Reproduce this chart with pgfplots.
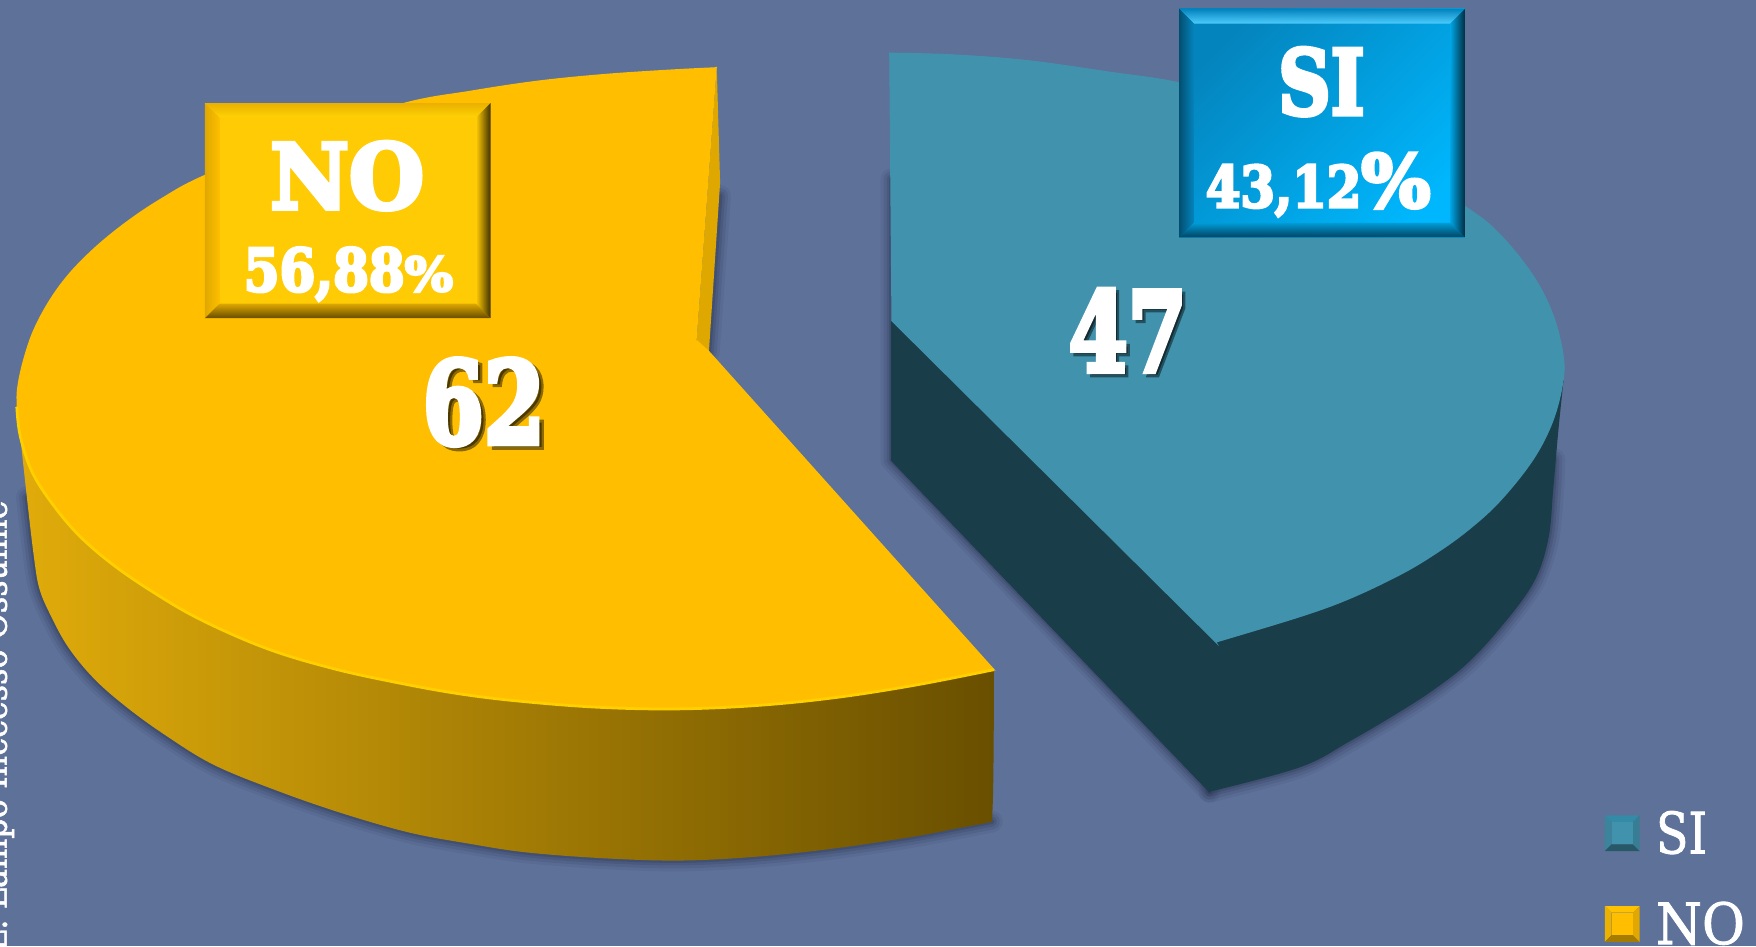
\documentclass[border=0pt]{standalone}
\usepackage{fontspec}
\usepackage{graphicx}
\usepackage{pgfplots}
\usepackage{pgfplotstable}
\pgfplotsset{compat=1.18}
\setmainfont{DejaVu Serif}
\newfontface\slab[FakeBold=5]{DejaVu Serif Bold}
\newfontface\slabreg[FakeBold=1.5]{DejaVu Serif}

\definecolor{bg}{HTML}{5E7199}
\definecolor{shadowc}{HTML}{2E3858}
\definecolor{sitop}{HTML}{4193AD}
\definecolor{siside}{HTML}{1A3D4A}
\definecolor{notop}{HTML}{FFBF00}
\definecolor{nowedge}{HTML}{DFA800}
\definecolor{noface}{HTML}{FFCB05}
\definecolor{noline}{HTML}{FFD000}
\definecolor{sia}{HTML}{0484BD}
\definecolor{sib}{HTML}{00B6FC}

% outlines, y downwards
\pgfplotstableread{
x y
643 175
633 314
625 322
}\noshadowa
\pgfplotstableread{
x y
885.8 733.6
816 747
745 757.6
675 765
607 768.4
538 766.3
469 761
417 753
366 743.5
308 727
250 707
191 683
147 656
112.5 631
84 606
61 578
45 549
35 525
30 495
24 444
}\noshadowb
\pgfplotstableread{
x y
796 160
796 411
1080 707
}\sishadowa
\pgfplotstableread{
x y
1080 707
1161 685
1205 662
1250 635.5
1280 616
1309.5 593
1339 561.4
1369 520.8
1382.4 482
1387 436
1388 410
}\sishadowb

\newcommand{\slabtext}[3]{{\fontsize{#1}{#1}\slab\scalebox{#2}[1]{#3}}}
\newcommand{\softshadow}[2]{%
  \addplot[shadowc, #2, line width=5.5pt, draw opacity=0.10, line cap=round, line join=round] table {#1};
  \addplot[shadowc, #2, line width=4pt, draw opacity=0.15, line cap=round, line join=round] table {#1};
  \addplot[shadowc, #2, line width=2.5pt, draw opacity=0.22, line cap=round, line join=round] table {#1};
  \addplot[shadowc, #2, line width=1.2pt, draw opacity=0.3, line cap=round, line join=round] table {#1};
}

\begin{document}
\begin{tikzpicture}
\begin{axis}[
    scale only axis,
    width=15.68cm,
    height=8.45cm,
    xmin=0, xmax=1568,
    ymin=0, ymax=845,
    y dir=reverse,
    hide axis,
    no markers,
]
% background
\addplot[draw=none, fill=bg] coordinates {(0,0) (1568,0) (1568,845) (0,845)};

% soft shadows under the slices
\softshadow{\noshadowa}{}
\softshadow{\noshadowb}{smooth}
\softshadow{\sishadowa}{}
\softshadow{\sishadowb}{smooth}

% NO slice, side
\addplot[draw=none, smooth, tension=0.6, left color=nowedge!96!white, middle color=nowedge!80!black, right color=nowedge!47!black] coordinates {
(887.5,598) (887.3,660) (886.8,705) (886.2,724) (886,731) (885.8,733.6) (883,734.3) (876,735.8) (855,739.6)
(816,747) (745,757.6) (675,765) (607,768.4) (538,766.3) (469,761) (417,753) (366,743.5) (308,727)
(250,707) (191,683) (147,656) (112.5,631) (84,606) (61,578) (45,549) (35,525)
(30,495) (24,444) (18,389)};
\addplot[draw=none, fill=nowedge] coordinates {(640,60) (643,163) (633,314) (622,304)};
% NO slice, top: back arc, front arc, and the straight cut
\addplot[draw=notop, line width=0.3pt, fill=notop] coordinates {(640,60) (15,363.5) (887.5,598) (633,314) (622,304)};
\addplot[draw=none, smooth, tension=0.6, fill=notop] coordinates {
(640,60) (600,62) (540,66) (480,72) (420,81) (360,92) (270,121) (182,156.5) (143,177.6) (113,197.7)
(86,219.5) (62.5,243) (44.6,267) (30,294) (21,320) (15.5,345) (15,363.5) (18,389) (28,420)};
\addplot[draw=noline, line width=0.7pt, smooth, tension=0.6, fill=notop] coordinates {
(15,363.5) (18,389) (28,420) (44.6,447) (68.5,476) (98,502) (134,527) (178.6,553) (238,579) (297.6,597)
(357,610) (410,619.5) (463,626) (533.5,631.5) (604,633) (675,630) (745,623) (816,612) (887.5,598)};

% SI slice, side and top
\addplot[draw=siside, line width=0.3pt, fill=siside] coordinates {(796,286) (796,411) (1080,707) (1396,340)};
\addplot[draw=none, smooth, tension=0.6, fill=siside] coordinates {
(1080,707) (1161,685) (1205,662) (1250,635.5) (1280,616) (1309.5,593) (1339,561.4) (1369,520.8) (1382.4,482)
(1387,436) (1391.3,386.6) (1396,340.7)};
\addplot[draw=sitop, line width=0.3pt, fill=sitop] coordinates {(794,47) (1086,573.7) (796,286)};
\addplot[draw=none, smooth, tension=0.6, fill=sitop] coordinates {
(794,47) (850,48.5) (917,53.6) (991,64) (1051,73) (1130,92) (1230,135) (1308,183.7) (1339,208.4) (1369,245.4)
(1387,280.7) (1396,316) (1396,340.7) (1387,376) (1369,411) (1339,448.4) (1309.5,475) (1280,496) (1250,513.7)
(1205,535) (1161,551) (1086,573.7)};

% NO box
\addplot[draw=none, fill=noface] coordinates {(183,92) (438,92) (438,284) (183,284)};
\addplot[draw=none, top color=notop!92!black, bottom color=noface!85!yellow] coordinates {(183,92) (438,92) (425,105) (196,105)};
\addplot[draw=none, left color=nowedge, right color=notop] coordinates {(183,92) (196,105) (196,271) (183,284)};
\addplot[draw=none, left color=noface, right color=notop!25!black] coordinates {(438,92) (438,284) (425,271) (425,105)};
\addplot[draw=none, top color=nowedge, bottom color=notop!40!black] coordinates {(183,284) (438,284) (425,271) (196,271)};

% SI box
\addplot[draw=none, top color=sia, bottom color=sib, shading angle=45] coordinates {(1053,8) (1308,8) (1308,212) (1053,212)};
\addplot[draw=none, top color=sia, bottom color=sib!70!white] coordinates {(1053,8) (1308,8) (1295,21) (1066,21)};
\addplot[draw=none, left color=sia!60!black, right color=sia] coordinates {(1053,8) (1066,21) (1066,199) (1053,212)};
\addplot[draw=none, left color=sib!90!black, right color=sia!35!black] coordinates {(1308,8) (1308,212) (1295,199) (1295,21)};
\addplot[draw=none, top color=sib!85!black, bottom color=sia!50!black] coordinates {(1053,212) (1308,212) (1295,199) (1066,199)};

% legend keys
\addplot[draw=none, fill=sitop!107!white] coordinates {(1433,728) (1464,728) (1458,734) (1439,734)};
\addplot[draw=none, fill=sitop!90!black] coordinates {(1433,728) (1439,734) (1439,754) (1433,760)};
\addplot[draw=none, fill=sitop!85!black] coordinates {(1464,728) (1464,760) (1458,754) (1458,734)};
\addplot[draw=none, fill=sitop!60!black] coordinates {(1433,760) (1464,760) (1458,754) (1439,754)};
\addplot[draw=none, fill=sitop] coordinates {(1439,734) (1458,734) (1458,754) (1439,754)};
\addplot[draw=none, fill=notop!95!yellow] coordinates {(1433,809) (1464,809) (1458,815) (1439,815)};
\addplot[draw=none, fill=notop!93!black] coordinates {(1433,809) (1439,815) (1439,835) (1433,841)};
\addplot[draw=none, fill=notop!88!black] coordinates {(1464,809) (1464,841) (1458,835) (1458,815)};
\addplot[draw=none, fill=notop!65!black] coordinates {(1433,841) (1464,841) (1458,835) (1439,835)};
\addplot[draw=none, fill=notop] coordinates {(1439,815) (1458,815) (1458,835) (1439,835)};

% box labels
\node[white] at (axis cs:310,157) {\slabtext{22.8}{0.96}{NO}};
\node[white, anchor=base west, inner sep=0pt] at (axis cs:217,260) {\slabtext{15}{0.87}{56,88}\slabtext{12}{1.08}{\%}};
\node[white] at (axis cs:1180,73) {\slabtext{22.8}{0.81}{SI}};
\node[white, anchor=base west, inner sep=0pt] at (axis cs:1076,185) {\slabtext{14.5}{0.87}{43,12}\slabtext{18.5}{1}{\%}};

% slice values
\node[black, opacity=0.45] at (axis cs:1010,298) {\slabtext{28}{0.77}{47}};
\node[white] at (axis cs:1007,295) {\slabtext{28}{0.77}{47}};
\node[black, opacity=0.45] at (axis cs:436,362) {\slabtext{29}{0.77}{62}};
\node[white] at (axis cs:432,359) {\slabtext{29}{0.77}{62}};

% legend text
\node[white, anchor=base west, inner sep=0pt] at (axis cs:1478,762) {{\fontsize{14.5}{14.5}\slabreg\scalebox{0.83}[1]{SI}}};
\node[white, anchor=base west, inner sep=0pt] at (axis cs:1478,843) {{\fontsize{14.5}{14.5}\slabreg\scalebox{0.92}[1]{NO}}};

% side note cut by the left edge
\node[white, rotate=90, anchor=base west, inner sep=0pt] at (axis cs:6,850) {{\fontsize{9}{9}\slabreg\scalebox{0.9}[1]{L: Lampo Inccesso Ossuime}}};
\end{axis}
\end{tikzpicture}
\end{document}
